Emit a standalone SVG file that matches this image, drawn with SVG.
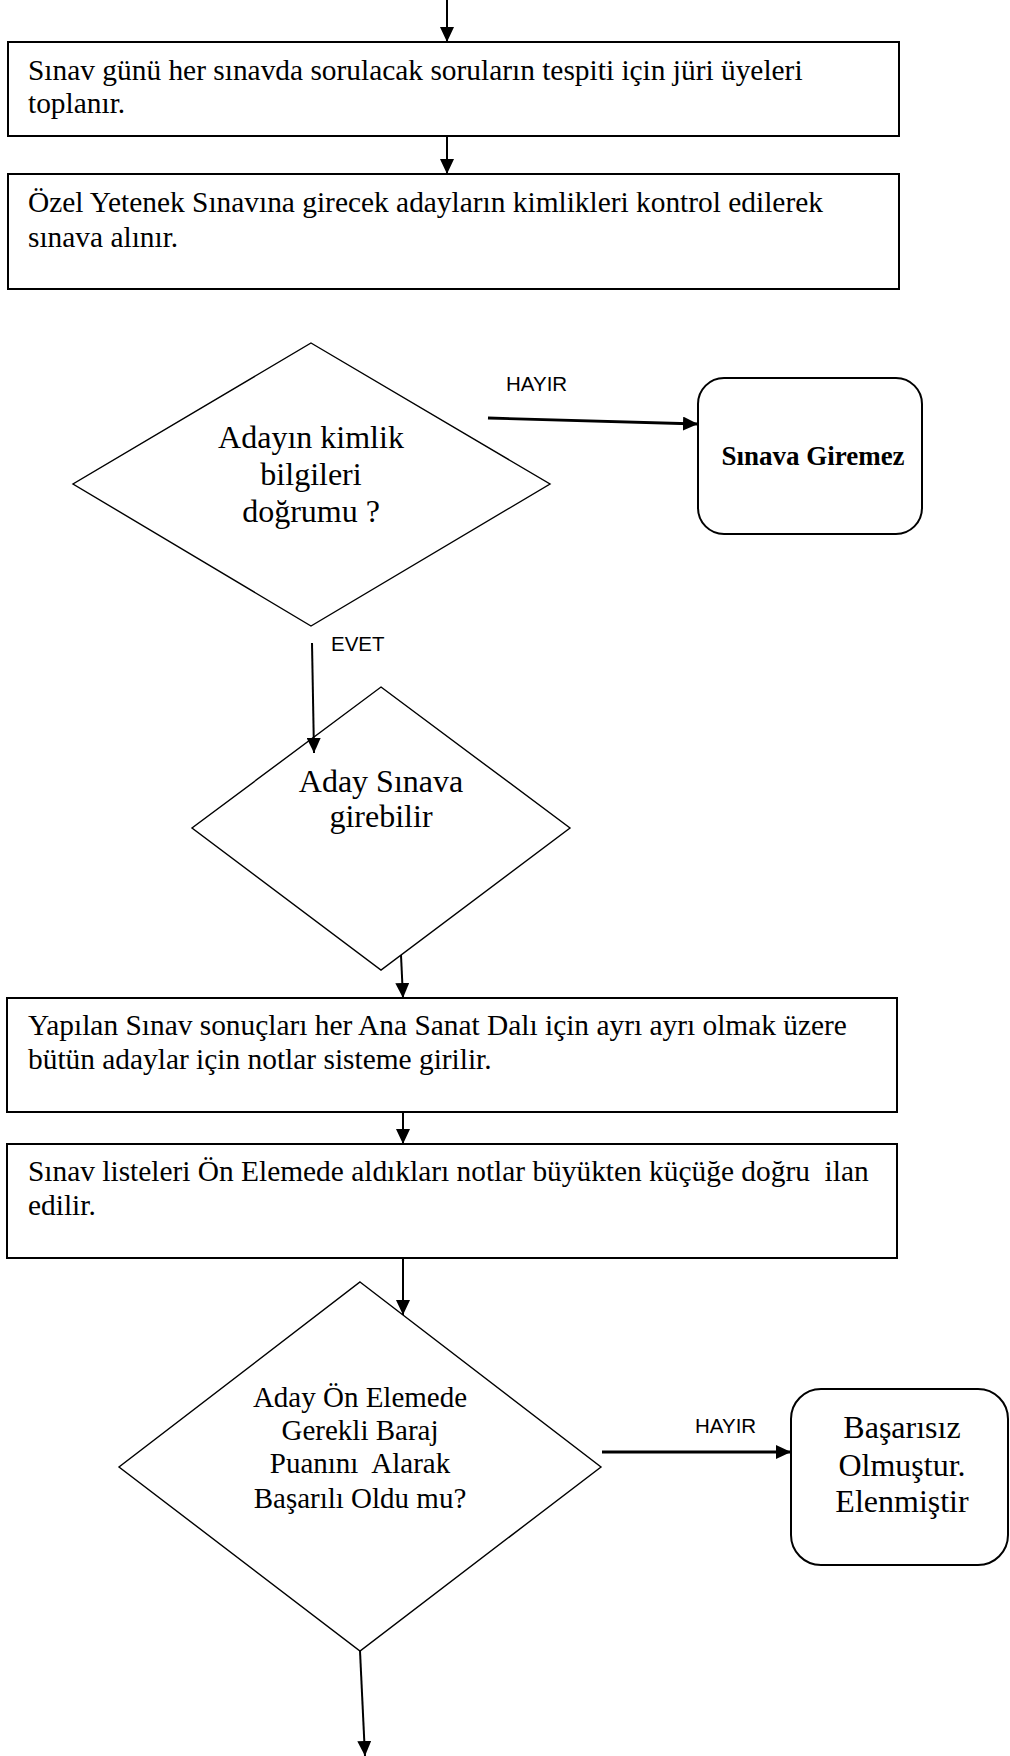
<svg xmlns="http://www.w3.org/2000/svg" width="1010" height="1756" viewBox="0 0 1010 1756">
<style>
.box{fill:#fff;stroke:#000;stroke-width:2}
.dia{fill:#fff;stroke:#000;stroke-width:1.4}
.rbox{fill:#fff;stroke:#000;stroke-width:2}
.t{font-family:"Liberation Serif","Times New Roman",serif;font-size:29.4px;fill:#000;white-space:pre}
.tc{font-family:"Liberation Serif","Times New Roman",serif;font-size:32px;fill:#000;text-anchor:middle;white-space:pre}
.tm{font-family:"Liberation Serif","Times New Roman",serif;font-size:29px;fill:#000;text-anchor:middle;white-space:pre}
.tb{font-family:"Liberation Serif","Times New Roman",serif;font-size:27px;font-weight:bold;fill:#000;text-anchor:middle}
.lbl{font-family:"Liberation Sans",Arial,sans-serif;font-size:20.5px;fill:#000}
.c{fill:none;stroke:#000;stroke-width:2}
.ct{fill:none;stroke:#000;stroke-width:2.8}
</style>
<defs>
<marker id="ah" markerUnits="userSpaceOnUse" markerWidth="15" markerHeight="14" viewBox="0 0 15 14" refX="15" refY="7" orient="auto">
<path d="M0,0 L15,7 L0,14 Z" fill="#000"/>
</marker>
</defs>
<rect width="1010" height="1756" fill="#fff"/>

<g id="box1">
<rect class="box" x="8" y="42" width="891" height="94"/>
<text class="t" x="28" y="80">Sınav günü her sınavda sorulacak soruların tespiti için jüri üyeleri</text>
<text class="t" x="28" y="113">toplanır.</text>
</g>

<g id="box2">
<rect class="box" x="8" y="174" width="891" height="115"/>
<text class="t" x="28" y="212">Özel Yetenek Sınavına girecek adayların kimlikleri kontrol edilerek</text>
<text class="t" x="28" y="247">sınava alınır.</text>
</g>

<g id="decision1">
<polygon class="dia" points="311,343 550,484 311,626 73,484"/>
<text class="tc" x="311" y="448">Adayın kimlik</text>
<text class="tc" x="311" y="485">bilgileri</text>
<text class="tc" x="311" y="522">doğrumu ?</text>
</g>

<g id="noentry">
<rect class="rbox" x="698" y="378" width="224" height="156" rx="26" ry="26"/>
<text class="tb" x="813" y="465">Sınava Giremez</text>
</g>

<g id="decision2">
<polygon class="dia" points="381,687 570,828 381,970 192,828"/>
<text class="tc" x="381" y="792">Aday Sınava</text>
<text class="tc" x="381" y="827">girebilir</text>
</g>

<g id="box3">
<rect class="box" x="7" y="998" width="890" height="114"/>
<text class="t" x="28" y="1035">Yapılan Sınav sonuçları her Ana Sanat Dalı için ayrı ayrı olmak üzere</text>
<text class="t" x="28" y="1069">bütün adaylar için notlar sisteme girilir.</text>
</g>

<g id="box4">
<rect class="box" x="7" y="1144" width="890" height="114"/>
<text class="t" x="28" y="1181">Sınav listeleri Ön Elemede aldıkları notlar büyükten küçüğe doğru  ilan</text>
<text class="t" x="28" y="1215">edilir.</text>
</g>

<g id="decision3">
<polygon class="dia" points="360,1282 601,1467 360,1651 119,1467"/>
<text class="tm" x="360" y="1407">Aday Ön Elemede</text>
<text class="tm" x="360" y="1440">Gerekli Baraj</text>
<text class="tm" x="360" y="1473">Puanını  Alarak</text>
<text class="tm" x="360" y="1508">Başarılı Oldu mu?</text>
</g>

<g id="failed">
<rect class="rbox" x="791" y="1389" width="217" height="176" rx="30" ry="30"/>
<text class="tc" x="902" y="1438">Başarısız</text>
<text class="tc" x="902" y="1476">Olmuştur.</text>
<text class="tc" x="902" y="1512">Elenmiştir</text>
</g>

<g id="connectors">
<line class="c" x1="447" y1="0" x2="447" y2="42" marker-end="url(#ah)"/>
<line class="c" x1="447" y1="136" x2="447" y2="174" marker-end="url(#ah)"/>
<line class="ct" x1="488" y1="418" x2="698" y2="424" marker-end="url(#ah)"/>
<line class="c" x1="312" y1="643" x2="314" y2="753" marker-end="url(#ah)"/>
<line class="c" x1="401" y1="955" x2="403" y2="998" marker-end="url(#ah)"/>
<line class="c" x1="403" y1="1112" x2="403" y2="1144" marker-end="url(#ah)"/>
<line class="c" x1="403" y1="1258" x2="403" y2="1315" marker-end="url(#ah)"/>
<line class="ct" x1="602" y1="1452" x2="791" y2="1452" marker-end="url(#ah)"/>
<line class="c" x1="360" y1="1651" x2="365" y2="1756" marker-end="url(#ah)"/>
<text class="lbl" x="506" y="391">HAYIR</text>
<text class="lbl" x="331" y="651">EVET</text>
<text class="lbl" x="695" y="1433">HAYIR</text>
</g>
</svg>
